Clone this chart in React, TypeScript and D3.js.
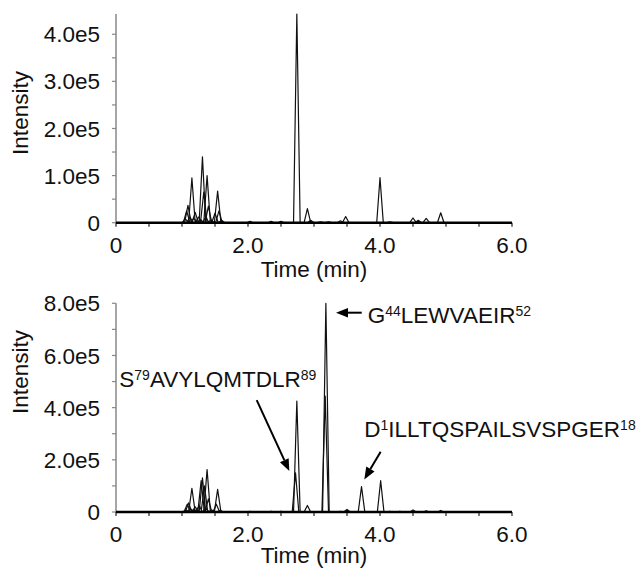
import React from "react";
import * as d3 from "d3";

// retention times (min) and apex intensities of the traces, upper panel
const topTimes = [
  1.05, 1.07, 1.09, 1.12, 1.15, 1.18, 1.2, 1.25, 1.28, 1.31, 1.33, 1.36, 1.38,
  1.4, 1.44, 1.5, 1.54, 1.56, 1.6, 2.03, 2.35, 2.5, 2.74, 2.9, 2.95, 3.1, 3.22,
  3.4, 3.48, 4.0, 4.15, 4.5, 4.58, 4.7, 4.92,
];
const topIntensity = [
  8000, 25000, 37000, 12000, 95000, 9000, 22000, 12000, 7000, 140000, 65000,
  12000, 100000, 35000, 6000, 20000, 67000, 25000, 5000, 3000, 3000, 3000,
  443000, 30000, 5000, 2000, 2000, 4000, 13000, 95500, 2000, 10000, 5000, 9000,
  21000,
];

// lower panel
const bottomTimes = [
  1.06, 1.08, 1.1, 1.13, 1.15, 1.18, 1.2, 1.23, 1.26, 1.29, 1.31, 1.34, 1.36,
  1.38, 1.4, 1.45, 1.52, 1.54, 1.58, 2.03, 2.35, 2.5, 2.72, 2.74, 2.9, 3.17,
  3.18, 3.4, 3.5, 3.72, 4.01, 4.15, 4.3, 4.5, 4.7, 4.92,
];
const bottomIntensity = [
  9000, 30000, 35000, 12000, 91000, 10000, 20000, 8000, 25000, 120000, 131000,
  100000, 15000, 163000, 50000, 8000, 30000, 87000, 7000, 3000, 3000, 3000,
  150000, 425000, 25000, 444000, 800000, 3000, 10000, 97000, 120000, 3000, 3000,
  8000, 5000, 6000,
];

const xTickValues = [0, 2, 4, 6];
const xTickLabels = ["0", "2.0", "4.0", "6.0"];
const topYTickValues = [0, 100000, 200000, 300000, 400000];
const topYTickLabels = ["0", "1.0e5", "2.0e5", "3.0e5", "4.0e5"];
const bottomYTickValues = [0, 200000, 400000, 600000, 800000];
const bottomYTickLabels = ["0", "2.0e5", "4.0e5", "6.0e5", "8.0e5"];

// peptide labels, arrow tip/tail and text anchor in data units
const annotations = [
  { base: "S", sup1: "79", rest: "AVYLQMTDLR", sup2: "89", tip: [2.626, 157000], tail: [2.132, 429000], text: [0.05, 480000] },
  { base: "G", sup1: "44", rest: "LEWVAEIR", sup2: "52", tip: [3.333, 764000], tail: [3.723, 764000], text: [3.814, 724000] },
  { base: "D", sup1: "1", rest: "ILLTQSPAILSVSPGER", sup2: "18", tip: [3.762, 125000], tail: [4.01, 231000], text: [3.762, 288600] },
];

const FONT = "'Liberation Sans', Arial, Helvetica, sans-serif";
const FS = 22.5;
const HALF_WIDTH = 0.05;

const x = d3.scaleLinear().domain([0, 6]).range([116, 512]);
const xMinor = d3.range(0, 6.01, 0.5);

function Panel({ times, values, yMax, top, bottom, yTicks, yLabels, tickLabelY, titleY, intensityY }) {
  const y = d3.scaleLinear().domain([0, yMax]).range([bottom, top]);
  const line = d3.line<[number, number]>().x((d) => x(d[0])).y((d) => y(d[1]));
  const minor = d3.range(0, yMax + 1, yTicks[1] / 2);
  return (
    <g>
      {times.map((t, i) => (
        <path
          key={i}
          d={line([[t - HALF_WIDTH, 0], [t, values[i]], [t + HALF_WIDTH, 0]]) || ""}
          fill="none"
          stroke="#111"
          strokeWidth={1.2}
          strokeLinejoin="round"
        />
      ))}
      {/* y axis */}
      <line x1={x(0)} x2={x(0)} y1={y(0)} y2={y(yMax)} stroke="#888" strokeWidth={1.5} />
      {minor.map((v, i) => (
        <line key={i} x1={x(0) - 4} x2={x(0)} y1={y(v)} y2={y(v)} stroke="#888" strokeWidth={1.2} />
      ))}
      {yTicks.map((v, i) => (
        <text key={i} x={100} y={y(v)} dy="0.36em" textAnchor="end" fontSize={FS} fontFamily={FONT} fill="#111">
          {yLabels[i]}
        </text>
      ))}
      {/* x axis */}
      {xMinor.map((v, i) => (
        <line key={i} x1={x(v)} x2={x(v)} y1={y(0)} y2={y(0) + 4} stroke="#222" strokeWidth={1.2} />
      ))}
      <line x1={x(0)} x2={x(6)} y1={y(0)} y2={y(0)} stroke="#000" strokeWidth={2.6} />
      {xTickValues.map((v, i) => (
        <text key={i} x={x(v)} y={tickLabelY} textAnchor="middle" fontSize={FS} fontFamily={FONT} fill="#111">
          {xTickLabels[i]}
        </text>
      ))}
      <text x={314} y={titleY} textAnchor="middle" fontSize={FS} fontFamily={FONT} fill="#111">
        Time (min)
      </text>
      <text
        transform={`translate(28,${intensityY}) rotate(-90)`}
        textAnchor="middle"
        fontSize={FS}
        fontFamily={FONT}
        fill="#111"
      >
        Intensity
      </text>
    </g>
  );
}

function Arrow({ x1, y1, x2, y2 }) {
  const a = Math.atan2(y2 - y1, x2 - x1);
  const len = 12;
  const w = 4.8;
  const bx = x2 - len * Math.cos(a);
  const by = y2 - len * Math.sin(a);
  const px = -Math.sin(a) * w;
  const py = Math.cos(a) * w;
  return (
    <g>
      <line x1={x1} y1={y1} x2={bx} y2={by} stroke="#000" strokeWidth={2} />
      <polygon points={`${x2},${y2} ${bx + px},${by + py} ${bx - px},${by - py}`} fill="#000" />
    </g>
  );
}

export default function App() {
  const yB = d3.scaleLinear().domain([0, 800000]).range([512, 303.3]);
  return (
    <svg width={644} height={570} style={{ position: "absolute", left: 0, top: 0, background: "#fff" }}>
      <Panel
        times={topTimes}
        values={topIntensity}
        yMax={443000}
        top={14}
        bottom={222.7}
        yTicks={topYTickValues}
        yLabels={topYTickLabels}
        tickLabelY={253}
        titleY={277}
        intensityY={113}
      />
      <Panel
        times={bottomTimes}
        values={bottomIntensity}
        yMax={800000}
        top={303.3}
        bottom={512}
        yTicks={bottomYTickValues}
        yLabels={bottomYTickLabels}
        tickLabelY={542}
        titleY={563}
        intensityY={372}
      />
      {annotations.map((a, i) => (
        <g key={i}>
          <Arrow x1={x(a.tail[0])} y1={yB(a.tail[1])} x2={x(a.tip[0])} y2={yB(a.tip[1])} />
          <text x={x(a.text[0])} y={yB(a.text[1])} fontSize={FS} fontFamily={FONT} fill="#111">
            {a.base}
            <tspan fontSize={14} dy={-7}>{a.sup1}</tspan>
            <tspan dy={7}>{a.rest}</tspan>
            <tspan fontSize={14} dy={-7}>{a.sup2}</tspan>
          </text>
        </g>
      ))}
    </svg>
  );
}
